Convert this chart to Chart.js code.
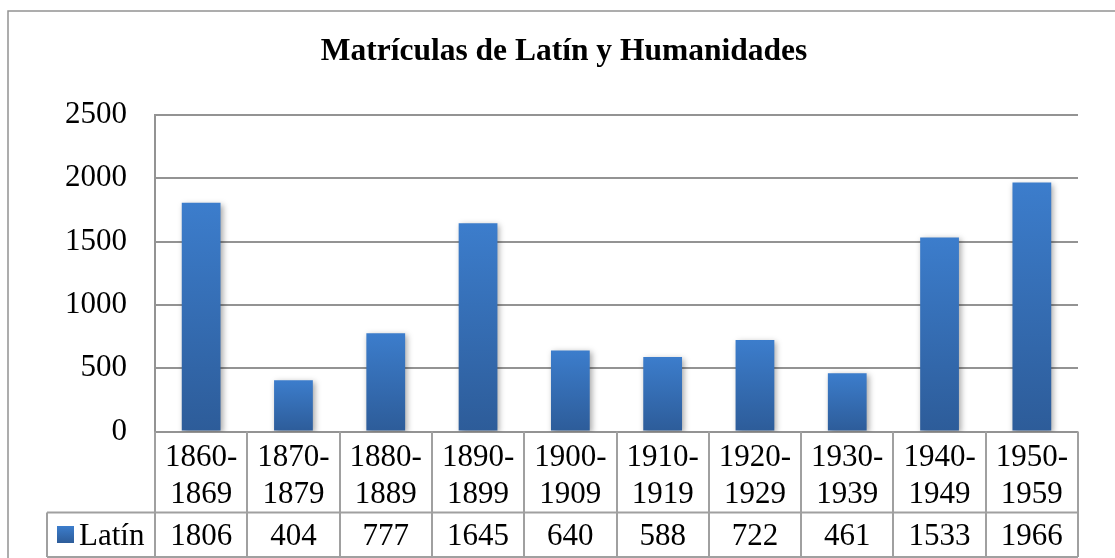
<!DOCTYPE html>
<html>
<head>
<meta charset="utf-8">
<script src="https://cdn.jsdelivr.net/npm/chart.js@4"></script>
<style>
  body { margin: 0; background: #fff; }
  #wrap { width: 1115px; height: 558px; }
</style>
</head>
<body>
<div id="wrap"><canvas id="myChart"></canvas></div>
<script>
//datos
const titulo = "Matrículas de Latín y Humanidades";
const serie = "Latín";
const periodos = [
  ["1860-", "1869"], ["1870-", "1879"], ["1880-", "1889"], ["1890-", "1899"], ["1900-", "1909"],
  ["1910-", "1919"], ["1920-", "1929"], ["1930-", "1939"], ["1940-", "1949"], ["1950-", "1959"]
];
const latin = [1806, 404, 777, 1645, 640, 588, 722, 461, 1533, 1966];
const ejeY = { min: 0, max: 2500, paso: 500 };

const fuente = '"Liberation Serif", "Times New Roman", serif';
const gris = "#939393";
const grisTabla = "#a0a0a0";

//degradado de cada barra, desde su tope hasta el cero
const degradado = (ctx, top, bottom) => {
  const g = ctx.createLinearGradient(0, top, 0, bottom);
  g.addColorStop(0, "#3c7dcc");
  g.addColorStop(1, "#2d5c99");
  return g;
};

const colorBarra = (context) => {
  const chart = context.chart;
  const y = chart.scales.y;
  if (!y || context.raw === undefined) return "#3470b8";
  const top = y.getPixelForValue(context.raw);
  const bottom = y.getPixelForValue(0);
  if (!isFinite(top) || !isFinite(bottom) || top === bottom) return "#3470b8";
  return degradado(chart.ctx, top, bottom);
};

//marco exterior
const marco = {
  id: "marco",
  beforeDraw(chart) {
    const ctx = chart.ctx;
    ctx.save();
    ctx.strokeStyle = gris;
    ctx.lineWidth = 1.5;
    ctx.strokeRect(8, 11, 1200, 700);
    ctx.restore();
  }
};

//sombra de las barras
const sombra = {
  id: "sombra",
  beforeDatasetsDraw(chart) {
    const ctx = chart.ctx;
    ctx.save();
    ctx.shadowColor = "rgba(0,0,0,0.35)";
    ctx.shadowBlur = 6;
    ctx.shadowOffsetX = 2;
    ctx.shadowOffsetY = 2;
  },
  afterDatasetsDraw(chart) {
    chart.ctx.restore();
  }
};

//tabla de datos debajo del eje x
const tabla = {
  id: "tabla",
  afterDraw(chart) {
    const ctx = chart.ctx;
    const x = chart.scales.x;
    const area = chart.chartArea;
    const n = periodos.length;
    const ancho = (area.right - area.left) / n;
    const top = area.bottom;
    const medio = top + 81;
    const fondo = 557;
    const izqLeyenda = 47;

    ctx.save();
    ctx.strokeStyle = grisTabla;
    ctx.lineWidth = 2;
    ctx.beginPath();
    for (let i = 0; i <= n; i++) {
      const px = Math.round(area.left + i * ancho);
      ctx.moveTo(px, top);
      ctx.lineTo(px, fondo);
    }
    ctx.moveTo(izqLeyenda, medio);
    ctx.lineTo(area.right, medio);
    ctx.moveTo(izqLeyenda, fondo);
    ctx.lineTo(area.right, fondo);
    ctx.moveTo(izqLeyenda, medio);
    ctx.lineTo(izqLeyenda, fondo);
    ctx.stroke();

    ctx.fillStyle = "#000";
    ctx.font = "31px " + fuente;
    ctx.textAlign = "center";
    ctx.textBaseline = "alphabetic";
    periodos.forEach((p, i) => {
      const cx = x.getPixelForValue(i);
      ctx.fillText(p[0], cx, top + 34);
      ctx.fillText(p[1], cx, top + 71);
      ctx.fillText(String(latin[i]), cx, fondo - 12);
    });

    //leyenda
    ctx.fillStyle = degradado(ctx, 526, 543);
    ctx.fillRect(57, 526, 17, 17);
    ctx.fillStyle = "#000";
    ctx.textAlign = "left";
    ctx.fillText(serie, 79, fondo - 12);
    ctx.restore();
  }
};

const config = {
  type: "bar",
  data: {
    labels: periodos,
    datasets: [{
      label: serie,
      data: latin,
      backgroundColor: colorBarra,
      borderWidth: 0,
      categoryPercentage: 1,
      barPercentage: 0.42
    }]
  },
  options: {
    responsive: true,
    maintainAspectRatio: false,
    animation: false,
    layout: { padding: { top: 0, left: 50, right: 37, bottom: 126.5 } },
    plugins: {
      legend: { display: false },
      tooltip: { enabled: false },
      title: {
        display: true,
        text: titulo,
        color: "#000",
        font: { family: fuente, size: 31.5, weight: "bold" },
        padding: { top: 32.5, bottom: 44.7 }
      }
    },
    scales: {
      x: { display: false },
      y: {
        min: ejeY.min,
        max: ejeY.max,
        ticks: {
          stepSize: ejeY.paso,
          color: "#000",
          padding: 28,
          font: { family: fuente, size: 31 },
          //sin separador de miles
          callback: (value) => String(value)
        },
        grid: { color: gris, lineWidth: 2, drawTicks: false },
        border: { display: true, color: gris, width: 2 },
        afterFit: (scale) => { scale.width = 105; }
      }
    }
  },
  plugins: [marco, sombra, tabla]
};

const myChart = new Chart(document.getElementById("myChart"), config);
</script>
</body>
</html>
